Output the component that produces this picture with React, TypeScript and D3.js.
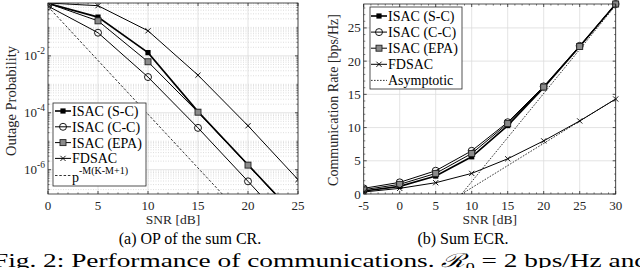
import React from "react";
import * as d3 from "d3";

// ---------- data ----------
const leftSNR = [0, 5, 10, 15, 20, 25];
const opSC = [0.7, 0.23, 0.013, 1.1e-4, 1.5e-6, 2.0e-8];
const opCC = [0.56, 0.065, 1.8e-3, 2.95e-5, 3.9e-7, 5e-9];
const opEPA = [0.7, 0.17, 6.2e-3, 1.05e-4, 1.45e-6, 1.9e-8];
const opFD = [0.72, 0.58, 0.076, 2.1e-3, 3.5e-5, 4.5e-7];
const asymSNR = [0, 5, 10, 15, 20];
const opAsym = [0.54, 6.9e-3, 8.9e-5, 1.15e-6, 1.5e-8];

const rightSNR = [-5, 0, 5, 10, 15, 20, 25, 30];
const rSC = [0.45, 1.15, 2.7, 5.6, 10.3, 16.0, 22.2, 28.6];
const rCC = [0.85, 1.75, 3.5, 6.5, 10.8, 16.2, 22.3, 28.6];
const rEPA = [0.65, 1.45, 3.1, 6.1, 10.6, 16.1, 22.2, 28.6];
const rFD = [0.3, 0.85, 1.7, 3.1, 5.3, 8.0, 11.0, 14.3];
const rAsymSNR = [8.6, 30];
const rAsymISAC = [0, 28.4];
const rAsymFD = [0, 14.3];

const leftXTicks = [0, 5, 10, 15, 20, 25];
const leftYTickExp = [-6, -4, -2];
const rightXTicks = [-5, 0, 5, 10, 15, 20, 25, 30];
const rightYTicks = [0, 5, 10, 15, 20, 25];

const legendLabels = ["ISAC (S-C)", "ISAC (C-C)", "ISAC (EPA)", "FDSAC"];
const markerTypes = ["filled", "circle", "square", "x"];

const FONT = "'Liberation Serif', 'Times New Roman', Times, serif";
const AX = "#262626";

function Marker({ type, x, y }: { type: string; x: number; y: number }) {
  if (type === "filled")
    return <rect x={x - 2.6} y={y - 2.6} width={5.2} height={5.2} fill="#000" />;
  if (type === "circle")
    return <circle cx={x} cy={y} r={3.5} fill="none" stroke="#000" strokeWidth={0.9} />;
  if (type === "square")
    return <rect x={x - 3} y={y - 3} width={6} height={6} fill="#8a8a8a" stroke="#222" strokeWidth={0.9} />;
  if (type === "x")
    return (
      <g stroke="#000" strokeWidth={0.9}>
        <line x1={x - 2.6} y1={y - 2.6} x2={x + 2.6} y2={y + 2.6} />
        <line x1={x - 2.6} y1={y + 2.6} x2={x + 2.6} y2={y - 2.6} />
      </g>
    );
  return null;
}

function Series({ xs, ys, sx, sy, type, width }: any) {
  const line = d3
    .line<number>()
    .x((_, i) => sx(xs[i]))
    .y((d) => sy(d));
  return (
    <g>
      <path d={line(ys) || ""} fill="none" stroke="#000" strokeWidth={width} />
      {ys.map((v: number, i: number) => (
        <Marker key={i} type={type} x={sx(xs[i])} y={sy(v)} />
      ))}
    </g>
  );
}

function LeftChart() {
  const x0 = 48, x1 = 298, y0 = 3, y1 = 194;
  const sx = d3.scaleLinear().domain([0, 25]).range([x0, x1]);
  const sy = d3.scaleLog().domain([1.4e-7, 0.72]).range([y1, y0]);
  const minor: number[] = [];
  const major: number[] = [];
  for (let e = -7; e <= 0; e++) {
    for (let m = 1; m <= 9; m++) {
      const v = m * Math.pow(10, e);
      if (v < 1.4e-7 || v > 0.72) continue;
      if (m === 1 && leftYTickExp.includes(e)) major.push(v);
      else minor.push(v);
    }
  }
  const xMinor = d3.range(0, 26, 1).filter((d) => d % 5 !== 0);
  const series = [opSC, opCC, opEPA, opFD];
  return (
    <g fontFamily={FONT}>
      <defs>
        <clipPath id="clipL">
          <rect x={x0} y={y0} width={x1 - x0} height={y1 - y0} />
        </clipPath>
      </defs>
      <rect x={x0} y={y0} width={x1 - x0} height={y1 - y0} fill="#fff" />
      {minor.map((v, i) => (
        <line key={"mn" + i} x1={x0} x2={x1} y1={sy(v)} y2={sy(v)} stroke="#c8c8c8" strokeWidth={0.6} strokeDasharray="1,1.5" />
      ))}
      {major.map((v, i) => (
        <line key={"mj" + i} x1={x0} x2={x1} y1={sy(v)} y2={sy(v)} stroke="#dcdcdc" strokeWidth={0.8} />
      ))}
      {leftXTicks.map((t) => (
        <line key={"gx" + t} x1={sx(t)} x2={sx(t)} y1={y0} y2={y1} stroke="#dcdcdc" strokeWidth={0.8} />
      ))}
      <g clipPath="url(#clipL)">
        <path
          d={d3.line<number>().x((_, i) => sx(asymSNR[i])).y((d) => sy(d))(opAsym) || ""}
          fill="none"
          stroke="#000"
          strokeWidth={0.8}
          strokeDasharray="2.5,1.8"
        />
        {series.map((s, k) => (
          <Series key={k} xs={leftSNR} ys={s} sx={sx} sy={sy} type={markerTypes[k]} width={k === 0 ? 1.6 : 1} />
        ))}
      </g>
      <rect x={x0} y={y0} width={x1 - x0} height={y1 - y0} fill="none" stroke={AX} strokeWidth={0.8} />
      {leftXTicks.map((t) => (
        <g key={"tx" + t}>
          <line x1={sx(t)} x2={sx(t)} y1={y1} y2={y1 - 3} stroke={AX} strokeWidth={0.8} />
          <line x1={sx(t)} x2={sx(t)} y1={y0} y2={y0 + 3} stroke={AX} strokeWidth={0.8} />
          <text x={sx(t)} y={y1 + 16} textAnchor="middle" fontSize={13} fill={AX}>
            {t}
          </text>
        </g>
      ))}
      {xMinor.map((t) => (
        <g key={"txm" + t}>
          <line x1={sx(t)} x2={sx(t)} y1={y1} y2={y1 - 1.6} stroke={AX} strokeWidth={0.6} />
          <line x1={sx(t)} x2={sx(t)} y1={y0} y2={y0 + 1.6} stroke={AX} strokeWidth={0.6} />
        </g>
      ))}
      {minor.map((v, i) => (
        <g key={"tym" + i}>
          <line x1={x0} x2={x0 + 1.6} y1={sy(v)} y2={sy(v)} stroke={AX} strokeWidth={0.6} />
          <line x1={x1} x2={x1 - 1.6} y1={sy(v)} y2={sy(v)} stroke={AX} strokeWidth={0.6} />
        </g>
      ))}
      {leftYTickExp.map((e) => {
        const y = sy(Math.pow(10, e));
        return (
          <g key={"ty" + e}>
            <line x1={x0} x2={x0 + 3} y1={y} y2={y} stroke={AX} strokeWidth={0.8} />
            <line x1={x1} x2={x1 - 3} y1={y} y2={y} stroke={AX} strokeWidth={0.8} />
            <text x={45} y={y + 4.5} textAnchor="end" fontSize={13} fill={AX}>
              10<tspan dy={-6} fontSize={9.5}>{"-" + Math.abs(e)}</tspan>
            </text>
          </g>
        );
      })}
      <text x={sx(12.5)} y={224} textAnchor="middle" fontSize={13.5} fill={AX}>
        SNR [dB]
      </text>
      <text transform="translate(16,101) rotate(-90)" textAnchor="middle" fontSize={14.5} fill={AX}>
        Outage Probability
      </text>
      <rect x={53} y={103} width={93} height={83} fill="#fff" stroke={AX} strokeWidth={0.8} />
      {legendLabels.map((lab, i) => {
        const y = 111 + i * 15.8;
        return (
          <g key={"lg" + i}>
            <line x1={55} x2={71} y1={y} y2={y} stroke="#000" strokeWidth={i === 0 ? 1.6 : 1} />
            <Marker type={markerTypes[i]} x={63} y={y} />
            <text x={72} y={y + 5} fontSize={14} fill="#000">
              {lab}
            </text>
          </g>
        );
      })}
      <line x1={55} x2={71} y1={175.5} y2={175.5} stroke="#000" strokeWidth={0.8} strokeDasharray="2.5,1.8" />
      <text x={72} y={182} fontSize={14} fill="#000">
        p<tspan dy={-8} fontSize={10}>-M(K-M+1)</tspan>
      </text>
    </g>
  );
}

function RightChart() {
  const x0 = 363.7, x1 = 615.7, y0 = 4, y1 = 194;
  const sx = d3.scaleLinear().domain([-5, 30]).range([x0, x1]);
  const sy = d3.scaleLinear().domain([0, 28.6]).range([y1, y0]);
  const xMinor = d3.range(-5, 31, 1).filter((d) => (d + 5) % 5 !== 0);
  const yMinor = d3.range(0, 29, 1).filter((d) => d % 5 !== 0);
  const series = [rSC, rCC, rEPA, rFD];
  const asymLine = d3
    .line<number>()
    .x((_, i) => sx(rAsymSNR[i]))
    .y((d) => sy(d));
  return (
    <g fontFamily={FONT}>
      <defs>
        <clipPath id="clipR">
          <rect x={x0} y={y0 - 4} width={x1 - x0 + 4} height={y1 - y0 + 4} />
        </clipPath>
      </defs>
      <rect x={x0} y={y0} width={x1 - x0} height={y1 - y0} fill="#fff" />
      {rightXTicks.map((t) => (
        <line key={"gx" + t} x1={sx(t)} x2={sx(t)} y1={y0} y2={y1} stroke="#dcdcdc" strokeWidth={0.8} />
      ))}
      {rightYTicks.map((t) => (
        <line key={"gy" + t} x1={x0} x2={x1} y1={sy(t)} y2={sy(t)} stroke="#dcdcdc" strokeWidth={0.8} />
      ))}
      <g clipPath="url(#clipR)">
        <path d={asymLine(rAsymISAC) || ""} fill="none" stroke="#000" strokeWidth={0.8} strokeDasharray="1.6,1.4" />
        <path d={asymLine(rAsymFD) || ""} fill="none" stroke="#000" strokeWidth={0.8} strokeDasharray="1.6,1.4" />
        {series.map((s, k) => (
          <Series key={k} xs={rightSNR} ys={s} sx={sx} sy={sy} type={markerTypes[k]} width={k === 0 ? 1.6 : 1} />
        ))}
      </g>
      <rect x={x0} y={y0} width={x1 - x0} height={y1 - y0} fill="none" stroke={AX} strokeWidth={0.8} />
      {rightXTicks.map((t) => (
        <g key={"tx" + t}>
          <line x1={sx(t)} x2={sx(t)} y1={y1} y2={y1 - 3} stroke={AX} strokeWidth={0.8} />
          <line x1={sx(t)} x2={sx(t)} y1={y0} y2={y0 + 3} stroke={AX} strokeWidth={0.8} />
          <text x={sx(t)} y={y1 + 16} textAnchor="middle" fontSize={13} fill={AX}>
            {t}
          </text>
        </g>
      ))}
      {xMinor.map((t) => (
        <g key={"txm" + t}>
          <line x1={sx(t)} x2={sx(t)} y1={y1} y2={y1 - 1.6} stroke={AX} strokeWidth={0.6} />
          <line x1={sx(t)} x2={sx(t)} y1={y0} y2={y0 + 1.6} stroke={AX} strokeWidth={0.6} />
        </g>
      ))}
      {yMinor.map((t) => (
        <g key={"tym" + t}>
          <line x1={x0} x2={x0 + 1.6} y1={sy(t)} y2={sy(t)} stroke={AX} strokeWidth={0.6} />
          <line x1={x1} x2={x1 - 1.6} y1={sy(t)} y2={sy(t)} stroke={AX} strokeWidth={0.6} />
        </g>
      ))}
      {rightYTicks.map((t) => (
        <g key={"ty" + t}>
          <line x1={x0} x2={x0 + 3} y1={sy(t)} y2={sy(t)} stroke={AX} strokeWidth={0.8} />
          <line x1={x1} x2={x1 - 3} y1={sy(t)} y2={sy(t)} stroke={AX} strokeWidth={0.8} />
          <text x={x0 - 3} y={sy(t) + 4.5} textAnchor="end" fontSize={13} fill={AX}>
            {t}
          </text>
        </g>
      ))}
      <text x={(x0 + x1) / 2} y={224} textAnchor="middle" fontSize={13.5} fill={AX}>
        SNR [dB]
      </text>
      <text transform="translate(338,100) rotate(-90)" textAnchor="middle" fontSize={14} fill={AX}>
        Communication Rate [bps/Hz]
      </text>
      <rect x={370} y={7} width={92} height={82} fill="#fff" stroke={AX} strokeWidth={0.8} />
      {legendLabels.map((lab, i) => {
        const y = 16 + i * 16.1;
        return (
          <g key={"lg" + i}>
            <line x1={371} x2={387} y1={y} y2={y} stroke="#000" strokeWidth={i === 0 ? 1.6 : 1} />
            <Marker type={markerTypes[i]} x={379} y={y} />
            <text x={388} y={y + 5} fontSize={14} fill="#000">
              {lab}
            </text>
          </g>
        );
      })}
      <line x1={371} x2={387} y1={80.4} y2={80.4} stroke="#000" strokeWidth={0.8} strokeDasharray="1.6,1.4" />
      <text x={388} y={85.4} fontSize={14} fill="#000">
        Asymptotic
      </text>
    </g>
  );
}

export default function App() {
  return (
    <svg
      width={640}
      height={268}
      viewBox="0 0 640 268"
      style={{ position: "absolute", left: 0, top: 0, background: "#fff" }}
    >
      <rect x={0} y={0} width={640} height={268} fill="#fff" />
      <LeftChart />
      <RightChart />
      <text x={190} y={244} textAnchor="middle" fontSize={16} fill="#000" fontFamily={FONT}>
        (a) OP of the sum CR.
      </text>
      <text x={463} y={244} textAnchor="middle" fontSize={16} fill="#000" fontFamily={FONT}>
        (b) Sum ECR.
      </text>
      <text
        x={-7}
        y={266.5}
        fontSize={19}
        fill="#000"
        fontFamily={FONT}
        textLength={655}
        lengthAdjust="spacingAndGlyphs"
      >
        <tspan fontFamily={FONT}>Fig. 2: Performance of communications. </tspan>
        <tspan fontFamily="DejaVu Serif" fontStyle="italic">ℛ</tspan>
        <tspan fontFamily={FONT} fontSize={12.5} dy={4}>0</tspan>
        <tspan fontFamily={FONT} dy={-4}> = 2 bps/Hz and</tspan>
      </text>
    </svg>
  );
}
